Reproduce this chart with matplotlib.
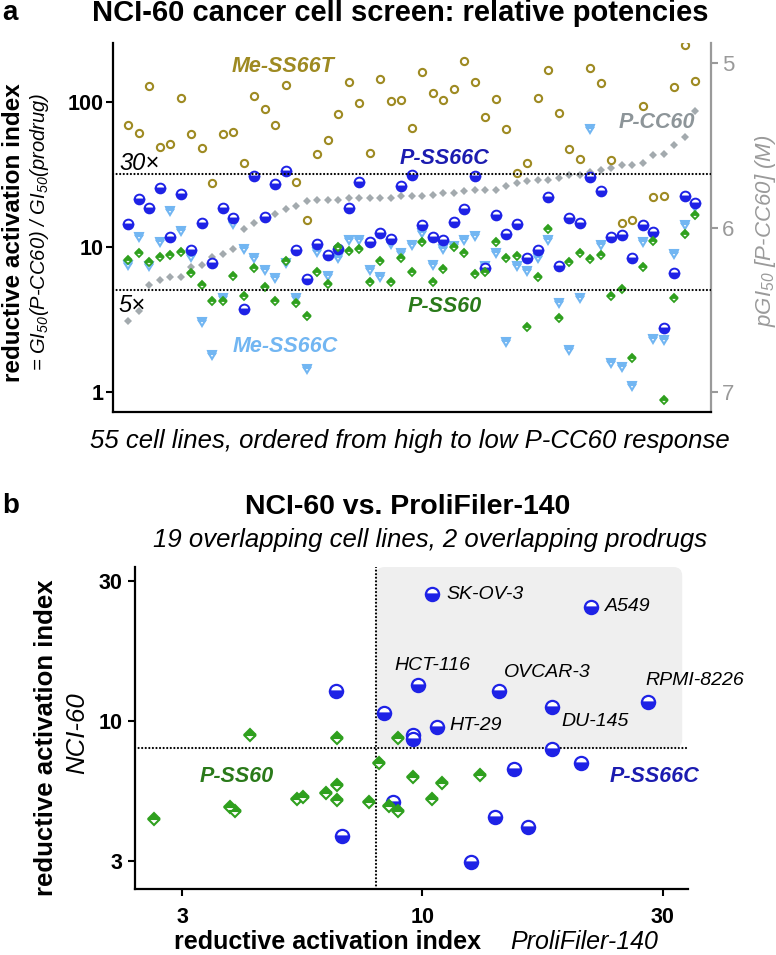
import numpy as np
import matplotlib.pyplot as plt
from matplotlib.patches import FancyBboxPatch
from matplotlib.ticker import NullLocator

plt.rcParams['font.family'] = ['Liberation Sans', 'DejaVu Sans']
plt.rcParams['mathtext.fontset'] = 'custom'
plt.rcParams['mathtext.rm'] = 'Liberation Sans:italic'
plt.rcParams['mathtext.it'] = 'Liberation Sans:italic'

# ---- panel a: 55 cell lines, reductive activation index per prodrug ----
me_ss66t = [69.0, 60.5, 128.9, 48.9, 51.0, 105.4, 59.5, 48.2, 27.5, 59.5,
            62.1, 37.6, 110, 89, 69.4, 129.6, 28.1, 15.3, 43.3, 54.4,
            82.2, 137.3, 98.4, 44.5, 143.3, 101, 102.6, 65.5, 159, 114,
            102.6, 122, 190.8, 136, 78.8, 105, 64.5, 32.4, 37.6, 106.6,
            165, 83.1, 47.2, 40, 170.6, 135, 39.6, 14.6, 15.2, 93.3,
            21.9, 22.5, 126.9, 244.6, 139.6]
p_ss66c = [14.3, 21.2, 18.6, 25.3, 11.6, 23.0, 9.5, 14.6, 7.7, 18.4,
           15.7, 3.7, 30.7, 15.9, 26.9, 33.4, 9.5, 6.0, 10.4, 8.7,
           9.7, 18.6, 28.1, 10.8, 12.4, 11.3, 26.3, 31.2, 14.1, 11.7,
           11.1, 14.9, 18.1, 30.7, 7.1, 16.5, 12.2, 14.3, 8.3, 9.5,
           22.1, 7.3, 15.8, 14.6, 30.1, 24.3, 11.6, 12.0, 8.3, 14.1,
           12.7, 2.76, 6.55, 22.5, 19.9]
p_ss60 = [8.1, 9.1, 7.9, 8.5, 8.8, 9.2, 6.6, 5.4, 4.2, 4.2,
          6.3, 4.6, 7.1, 5.3, 4.2, 8.0, 4.1, 3.3, 6.7, 5.5,
          10.0, 9.3, 9.7, 5.7, 8.0, 5.7, 8.3, 6.7, 10.8, 5.7,
          7.0, 9.9, 9.0, 6.5, 6.7, 10.7, 8.3, 8.6, 2.8, 6.2,
          13.2, 3.2, 7.8, 9.0, 8.2, 8.8, 4.6, 5.1, 1.7, 7.2,
          10.9, 0.87, 4.4, 12.2, 16.5]
me_ss66c = [7.5, 11.7, 7.3, 10.8, 17.7, 12.9, 8.5, 3.0, 1.8, 4.4,
            14.3, 9.7, 8.3, 6.9, 6.1, 7.7, 4.4, 1.43, 9.2, 6.3,
            8.3, 11.2, 11.1, 6.9, 6.2, 10.5, 9.1, 10.3, 12.4, 7.5,
            9.6, 10.1, 11.2, 11.8, 7.3, 9.0, 2.2, 7.4, 6.8, 8.3,
            11.1, 4.1, 1.94, 4.4, 64.5, 10.3, 1.57, 1.47, 1.10, 10.8,
            2.32, 2.26, 8.9, 14.1, 18.9]
# pGI50 of P-CC60 (right axis)
p_cc60 = [6.57, 6.51, 6.35, 6.32, 6.30, 6.30, 6.24, 6.23, 6.18, 6.16,
          6.13, 6.01, 5.97, 5.95, 5.92, 5.89, 5.87, 5.84, 5.83, 5.83,
          5.83, 5.82, 5.82, 5.82, 5.82, 5.82, 5.81, 5.81, 5.81, 5.80,
          5.79, 5.79, 5.78, 5.77, 5.77, 5.77, 5.75, 5.73, 5.72, 5.71,
          5.71, 5.70, 5.68, 5.68, 5.66, 5.65, 5.64, 5.62, 5.62, 5.61,
          5.56, 5.55, 5.50, 5.45, 5.29]

# ---- panel b: ProliFiler-140 (x) vs NCI-60 (y) ----
ss60_prolif = [2.76, 3.98, 4.08, 4.38, 5.48, 5.65, 6.30, 6.63, 6.63, 6.63,
               7.75, 8.13, 8.52, 8.91, 8.91, 9.54, 10.47, 10.96, 13.17]
ss60_nci = [4.46, 4.93, 4.79, 8.89, 5.26, 5.37, 5.52, 8.67, 5.92, 5.23,
            5.13, 7.08, 4.98, 8.67, 4.78, 6.30, 5.26, 6.03, 6.44]
ss66c_prolif = [6.61, 6.80, 8.32, 8.70, 9.57, 9.57, 9.77, 10.48, 10.73, 14.44,
                18.62, 18.62, 21.36, 22.37, 29.43, 15.52, 14.15, 16.6, 12.6]
ss66c_nci = [12.82, 3.89, 10.7, 5.16, 8.92, 8.63, 13.40, 28.25, 9.54, 12.82,
             11.19, 7.93, 7.08, 25.5, 11.72, 6.75, 4.56, 4.18, 3.15]
ss66c_names = ['', '', '', '', '', '', 'HCT-116', 'SK-OV-3', 'HT-29', 'OVCAR-3',
               'DU-145', '', '', 'A549', 'RPMI-8226', '', '', '', '']

# colours
OLIVE = '#9E8A22'
BLUE = '#1E22E6'
BLUE_TXT = '#1C1CB0'
LBLUE = '#72B6F2'
GREEN = '#2FA01E'
GREEN_TXT = '#2A7A1A'
GREY = '#A3AAAE'
GREY_TXT = '#8D9599'
AXGREY = '#9A9A9A'

W, H = 776, 955
fig = plt.figure(figsize=(W / 100, H / 100), dpi=100)


def ftext(x, y, s, **kw):
    # place text by pixel position in the figure
    fig.text(x / W, 1 - y / H, s, **kw)


def axbox(l, t, r, b):
    return [l / W, 1 - b / H, (r - l) / W, (b - t) / H]


# ================= panel a =================
ax = fig.add_axes(axbox(113, 43, 711, 412))
ax2 = ax.twinx()
ax.set_zorder(ax2.get_zorder() + 1)
ax.patch.set_visible(False)

x = np.arange(1, len(p_cc60) + 1)

ax2.plot(x, p_cc60, 'D', ls='none', ms=3.9, mew=0, color=GREY)
ax2.set_ylim(7.122, 4.878)
ax2.set_yticks([5, 6, 7])
ax2.tick_params(axis='y', length=5, width=1.5, color=AXGREY,
                labelcolor=AXGREY, labelsize=16, pad=3)
for s in ['top', 'left', 'bottom']:
    ax2.spines[s].set_visible(False)
ax2.spines['right'].set_color(AXGREY)
ax2.spines['right'].set_linewidth(1.6)

ax.plot(x, me_ss66c, 'v', ls='none', ms=6.2, mew=1.5, color=LBLUE,
        fillstyle='top', markerfacecoloralt='white')
ax.plot(x, me_ss66t, 'o', ls='none', ms=5.2, mew=1.5, color=OLIVE,
        markerfacecolor='white')
ax.plot(x, p_ss66c, 'o', ls='none', ms=7.0, mew=1.4, color=BLUE,
        fillstyle='bottom', markerfacecoloralt='white')
ax.plot(x, p_ss60, 'D', ls='none', ms=3.9, mew=1.3, color=GREEN,
        fillstyle='top', markerfacecoloralt='white')

dots = (0, (0.01, 1.6))
ax.axhline(10 ** 1.5, color='k', lw=1.6, ls=dots, dash_capstyle='round')
ax.axhline(5, color='k', lw=1.6, ls=dots, dash_capstyle='round')

ax.set_yscale('log')
ax.set_ylim(0.724, 254)
ax.set_xlim(-0.43, 56.5)
ax.set_xticks([])
ax.set_yticks([1, 10, 100])
ax.set_yticklabels(['1', '10', '100'], fontweight='bold', fontsize=15.5)
ax.yaxis.set_minor_locator(NullLocator())
ax.tick_params(axis='y', length=5, width=1.5, pad=2)
ax.spines['top'].set_visible(False)
ax.spines['right'].set_visible(False)
for s in ['left', 'bottom']:
    ax.spines[s].set_linewidth(1.6)

ftext(2, 13, 'a', fontsize=20, fontweight='bold', ha='left', va='center')
ftext(400, 13, 'NCI-60 cancer cell screen: relative potencies',
      fontsize=21, fontweight='bold', ha='center', va='center')
ftext(14, 233, 'reductive activation index', fontsize=17.5, fontweight='bold',
      rotation=90, ha='center', va='center')
ftext(40, 232, r'= GI$_{50}$(P-CC60) / GI$_{50}$(prodrug)', fontsize=14.5,
      style='italic', rotation=90, ha='center', va='center')
ftext(765, 231, r'pGI$_{50}$ [P-CC60] (M)', fontsize=16, style='italic',
      color=AXGREY, rotation=90, ha='center', va='center')
ftext(410, 441, '55 cell lines, ordered from high to low P-CC60 response',
      fontsize=18.5, style='italic', ha='center', va='center')

lab = dict(fontsize=15.5, fontweight='bold', style='italic',
           ha='center', va='center')
ftext(283, 66, 'Me-SS66T', color=OLIVE, **lab)
ftext(445, 158, 'P-SS66C', color=BLUE_TXT, **lab)
ftext(657, 122, 'P-CC60', color=GREY_TXT, **lab)
ftext(445, 307, 'P-SS60', color=GREEN_TXT, **lab)
ftext(285, 346, 'Me-SS66C', color=LBLUE, **lab)
ftext(139, 163, '30×', fontsize=17, style='italic', ha='center', va='center')
ftext(132, 305, '5×', fontsize=17, style='italic', ha='center', va='center')

# ================= panel b =================
bx = fig.add_axes(axbox(135, 567, 688.3, 889))
bx.set_xscale('log')
bx.set_yscale('log')
xl = (10 ** 0.402, 10 ** 1.553)
yl = (10 ** 0.401, 10 ** 1.549)
bx.set_xlim(*xl)
bx.set_ylim(*yl)


def afrac(v, lim):
    return (np.log10(v) - np.log10(lim[0])) / (np.log10(lim[1]) - np.log10(lim[0]))


sx0, sx1 = afrac(8, xl), afrac(34.7, xl)
sy0, sy1 = afrac(8, yl), 1.0
aw, ah = 688.3 - 135, 889 - 567
shade = FancyBboxPatch((sx0, sy0), sx1 - sx0, sy1 - sy0,
                       boxstyle='round,pad=0,rounding_size=0.016',
                       mutation_aspect=aw / ah, transform=bx.transAxes,
                       facecolor='#EFEFEF', edgecolor='none', zorder=0)
bx.add_patch(shade)

bx.axhline(8, color='k', lw=1.6, ls=dots, dash_capstyle='round', zorder=1)
bx.axvline(8, color='k', lw=1.6, ls=dots, dash_capstyle='round', zorder=1)

bx.plot(ss66c_prolif, ss66c_nci, 'o', ls='none', ms=9.5, mew=1.6, color=BLUE,
        fillstyle='bottom', markerfacecoloralt='white', zorder=3)
bx.plot(ss60_prolif, ss60_nci, 'D', ls='none', ms=5.8, mew=1.5, color=GREEN,
        fillstyle='top', markerfacecoloralt='white', zorder=4)

offsets = {'SK-OV-3': (10.4, 0, 'left'), 'A549': (10.3, 0, 'left'),
           'HCT-116': (11, 14.6, 'center'), 'OVCAR-3': (3.4, 13, 'left'),
           'RPMI-8226': (-1.9, 15.1, 'left'), 'HT-29': (8.6, 0.7, 'left'),
           'DU-145': (6.3, -10.4, 'left')}
for px_, py_, name in zip(ss66c_prolif, ss66c_nci, ss66c_names):
    if name:
        dx, dy, ha = offsets[name]
        bx.annotate(name, (px_, py_), xytext=(dx, dy), textcoords='offset points',
                    fontsize=14, style='italic', ha=ha, va='center',
                    annotation_clip=False, zorder=5)

tv = [10 ** 0.5, 10, 10 ** 1.5]
bx.set_xticks(tv)
bx.set_xticklabels(['3', '10', '30'], fontweight='bold', fontsize=15.5)
bx.set_yticks(tv)
bx.set_yticklabels(['3', '10', '30'], fontweight='bold', fontsize=15.5)
bx.xaxis.set_minor_locator(NullLocator())
bx.yaxis.set_minor_locator(NullLocator())
bx.tick_params(axis='x', length=5, width=1.5, pad=8)
bx.tick_params(axis='y', length=5, width=1.5, pad=4)
bx.spines['top'].set_visible(False)
bx.spines['right'].set_visible(False)
for s in ['left', 'bottom']:
    bx.spines[s].set_linewidth(1.6)

ftext(2, 506, 'b', fontsize=20, fontweight='bold', ha='left', va='center')
ftext(408, 507, 'NCI-60 vs. ProliFiler-140', fontsize=20.5,
      fontweight='bold', ha='center', va='center')
ftext(430, 540, '19 overlapping cell lines, 2 overlapping prodrugs',
      fontsize=18.5, style='italic', ha='center', va='center')
ftext(46, 738, 'reductive activation index', fontsize=18.5, fontweight='bold',
      rotation=90, ha='center', va='center')
ftext(77, 733, 'NCI-60', fontsize=18.5, style='italic', rotation=90,
      ha='center', va='center')
ftext(328, 942, 'reductive activation index', fontsize=18, fontweight='bold',
      ha='center', va='center')
ftext(584, 942, 'ProliFiler-140', fontsize=18, style='italic',
      ha='center', va='center')
ftext(237, 777, 'P-SS60', color=GREEN_TXT, **lab)
ftext(654, 777, 'P-SS66C', color=BLUE_TXT, **lab)

fig.savefig('out.png', dpi=100)
